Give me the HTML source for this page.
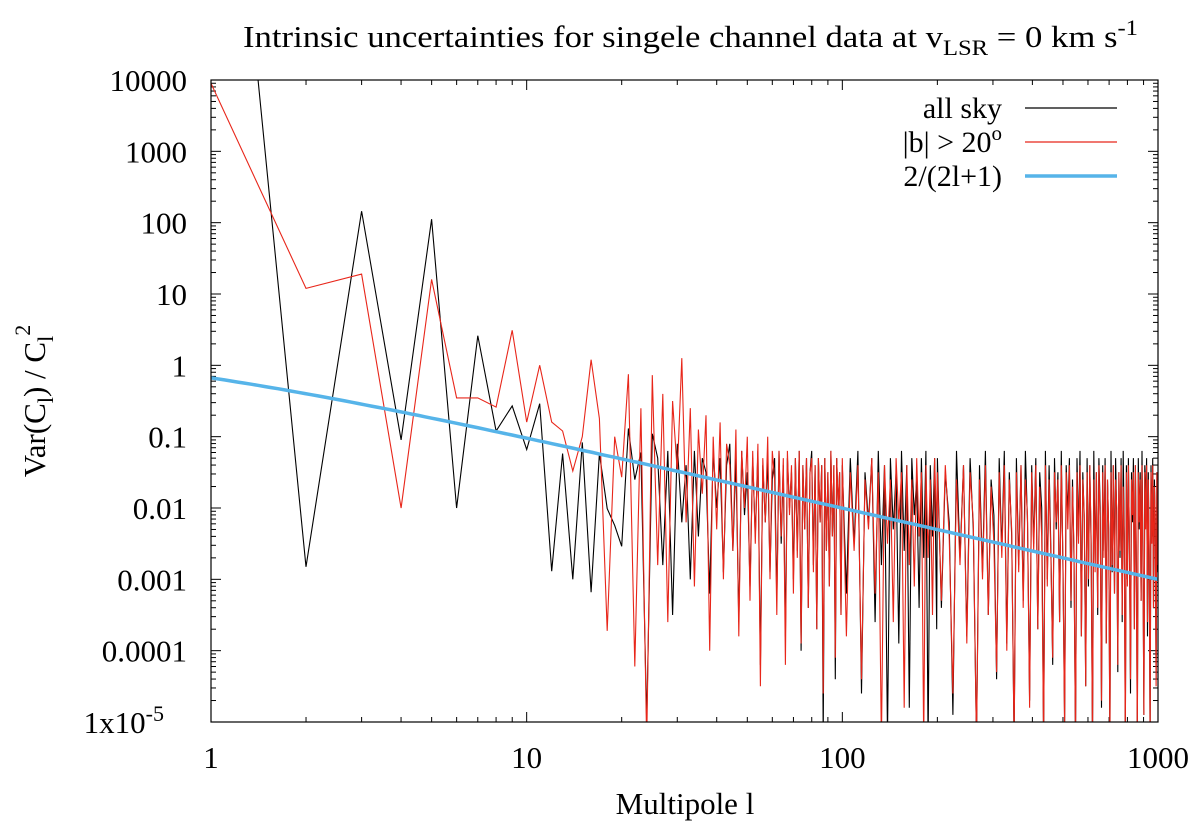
<!DOCTYPE html>
<html><head><meta charset="utf-8"><style>
body{margin:0;background:#fff}
svg text{font-family:"Liberation Serif",serif;fill:#000}
</style></head><body>
<svg id="chart" width="1200" height="833" viewBox="0 0 1200 833" xmlns="http://www.w3.org/2000/svg">
<defs><clipPath id="clip"><rect x="211" y="80" width="947" height="642"/></clipPath></defs>
<text x="243" y="47" font-size="31" textLength="895" lengthAdjust="spacingAndGlyphs">Intrinsic uncertainties for singele channel data at v<tspan font-size="22" dy="8">LSR</tspan><tspan dy="-8"> = 0 km s</tspan><tspan font-size="22" dy="-12">-1</tspan></text>
<text x="685" y="814" font-size="31" text-anchor="middle">Multipole l</text>
<text transform="translate(45,401) rotate(-90)" font-size="31" text-anchor="middle">Var(C<tspan font-size="22" dy="8">l</tspan><tspan dy="-8">) / C</tspan><tspan font-size="22" dy="8">l</tspan><tspan font-size="22" dy="-23">2</tspan></text>
<g id="axes"></g>
<g id="series" clip-path="url(#clip)"></g>
<rect x="211" y="80" width="947" height="642" fill="none" stroke="#000" stroke-width="1.2"/>
<g id="legend">
<text x="1002" y="118" font-size="30" text-anchor="end">all sky</text>
<line x1="1025" y1="108" x2="1117" y2="108" stroke="#000" stroke-width="1.2"/>
<text x="1002" y="152" font-size="30" text-anchor="end">|b| &gt; 20<tspan font-size="21" dy="-12">o</tspan></text>
<line x1="1025" y1="142" x2="1117" y2="142" stroke="#e8261a" stroke-width="1.2"/>
<text x="1002" y="186" font-size="30" text-anchor="end">2/(2l+1)</text>
<line x1="1025" y1="176" x2="1117" y2="176" stroke="#56b4e9" stroke-width="3.5"/>
</g>
</svg>
<script>
const xTicks=[1,10,100,1000];
const xTickLabels=["1","10","100","1000"];
const yTicks=[4,3,2,1,0,-1,-2,-3,-4,-5];
const yTickLabels=["10000","1000","100","10","1","0.1","0.01","0.001","0.0001","1x10"];
// all sky, l = 1..25 (linear values)
const allSkyEarly=[5e10,0.0015,145,0.09,112,0.01,2.6,0.12,0.27,0.066,0.29,0.0013,0.058,0.001,0.083,0.00066,0.058,0.0098,0.0057,0.0029,0.13,0.025,0.06,0.00001,0.11];
const bCutEarly=[9000,12,19,0.01,16,0.35,0.35,0.26,3.1,0.16,1.0,0.16,0.12,0.033,0.1,1.2,0.18,0.00019,0.1,0.027,0.75,0.00006,0.25,0.000005,0.73];
// log10 values: l = 26..99 step 1
const allSkyLogLow=[-1.3,-2.8,-1.2,-3.5,-1.1,-2.2,-1.4,-3.0,-1.2,-2.4,-1.3,-1.5,-3.2,-1.2,-2.0,-1.3,-2.9,-1.4,-1.1,-2.6,-1.3,-3.6,-1.2,-2.1,-1.5,-3.1,-1.3,-2.4,-1.2,-4.2,-1.4,-2.2,-1.3,-2.9,-1.6,-1.3,-3.3,-1.2,-2.5,-1.4,-3.8,-1.3,-2.0,-1.5,-3.0,-1.3,-2.6,-1.2,-4.0,-1.4,-2.3,-1.3,-3.4,-1.5,-1.2,-2.8,-1.4,-3.7,-1.3,-2.2,-1.4,-5.2,-1.3,-2.6,-1.5,-3.1,-1.2,-2.4,-1.4,-4.4,-1.3,-2.0,-1.5,-3.5];
const bCutLogLow=[-2.8,-0.4,-3.6,-0.5,-1.5,0.1,-2.2,-0.6,-3.1,-0.9,-1.8,-0.7,-4.0,-1.0,-2.3,-0.8,-3.0,-1.1,-1.4,-2.6,-0.9,-3.8,-1.2,-2.0,-1.0,-3.3,-1.2,-2.5,-1.1,-4.5,-1.3,-2.2,-1.0,-3.0,-1.2,-1.6,-3.5,-1.2,-2.4,-1.3,-4.2,-1.2,-2.1,-1.4,-3.2,-1.3,-2.7,-1.2,-3.9,-1.4,-2.3,-1.3,-3.4,-1.5,-1.3,-2.9,-1.4,-3.7,-1.3,-2.2,-1.4,-4.6,-1.3,-2.6,-1.5,-3.1,-1.2,-2.4,-1.4,-4.1,-1.3,-2.0,-1.5,-3.5];
// log10 values: l = 100.. step 3
const allSkyLogMid=[-1.4,-3.2,-1.3,-2.5,-1.2,-4.6,-1.5,-2.2,-1.3,-3.6,-1.2,-2.8,-1.4,-5.2,-1.3,-2.3,-1.5,-3.9,-1.2,-2.6,-1.4,-4.8,-1.3,-2.1,-1.6,-3.4,-1.3,-2.7,-1.2,-5.3,-1.4,-2.4,-1.3,-3.7];
const bCutLogMid=[-1.3,-3.8,-1.5,-2.6,-1.4,-4.4,-1.6,-2.3,-1.3,-3.2,-1.5,-5.3,-1.4,-2.5,-1.6,-3.6,-1.3,-2.2,-1.5,-4.8,-1.4,-2.8,-1.6,-3.1,-1.3,-2.4,-1.5,-5.3,-1.4,-2.7,-1.6,-3.5,-1.3,-2.3];
// log10 values: l = 200.. step 6
const allSkyLogHigh=[-1.3,-3.4,-1.5,-2.2,-4.9,-1.2,-2.7,-1.4,-3.8,-1.3,-2.3,-5.3,-1.4,-2.9,-1.2,-3.5,-1.6,-2.1,-4.4,-1.3,
-2.6,-1.2,-3.9,-1.5,-2.4,-5.3,-1.3,-2.8,-1.4,-3.3,-1.2,-2.2,-4.7,-1.4,-2.5,-1.3,-3.7,-1.5,-2.0,-5.3,
-1.2,-3.0,-1.4,-2.6,-4.2,-1.3,-2.3,-1.5,-3.6,-1.2,-2.9,-5.0,-1.4,-2.1,-1.3,-3.4,-1.6,-2.7,-5.3,-1.3,
-2.4,-1.2,-3.8,-1.5,-2.2,-4.5,-1.3,-3.1,-1.4,-2.5,-5.3,-1.2,-2.8,-1.5,-3.5,-1.3,-2.0,-4.8,-1.4,-2.6,
-1.3,-3.9,-1.6,-2.3,-5.3,-1.2,-2.9,-1.4,-3.2,-1.3,-2.1,-4.3,-1.5,-2.7,-1.3,-3.6,-1.2,-2.4,-5.3,-1.4,
-3.0,-1.3,-2.5,-4.6,-1.5,-2.2,-1.3,-3.7,-1.4,-2.8,-5.3,-1.3,-2.3,-1.5,-3.3,-1.2,-2.6,-4.9,-1.4,-2.0,
-1.3,-3.8,-1.5,-2.7,-5.3,-1.4,-2.4,-1.3,-3.4,-1.6,-2.2,-4.4,-1.5,-2.9];
const bCutLogHigh=[-1.5,-3.3,-1.4,-2.4,-4.6,-1.6,-2.8,-1.4,-3.9,-1.5,-2.2,-5.3,-1.6,-3.0,-1.4,-3.5,-1.7,-2.5,-4.3,-1.5,
-2.7,-1.4,-4.0,-1.6,-2.3,-5.3,-1.5,-2.9,-1.4,-3.4,-1.6,-2.1,-4.8,-1.5,-2.6,-1.4,-3.7,-1.7,-2.4,-5.3,
-1.4,-3.1,-1.6,-2.7,-4.1,-1.5,-2.2,-1.6,-3.6,-1.4,-2.8,-5.1,-1.5,-2.3,-1.4,-3.3,-1.7,-2.6,-5.3,-1.5,
-2.5,-1.4,-3.8,-1.6,-2.1,-4.5,-1.5,-3.0,-1.4,-2.4,-5.3,-1.6,-2.9,-1.5,-3.4,-1.4,-2.2,-4.7,-1.5,-2.7,
-1.4,-3.9,-1.6,-2.3,-5.3,-1.5,-2.8,-1.4,-3.2,-1.6,-2.0,-4.2,-1.5,-2.6,-1.4,-3.5,-1.7,-2.5,-5.3,-1.5,
-3.1,-1.4,-2.4,-4.4,-1.6,-2.1,-1.5,-3.7,-1.4,-2.9,-5.3,-1.5,-2.2,-1.6,-3.3,-1.4,-2.7,-4.9,-1.5,-2.3,
-1.4,-3.6,-1.6,-2.6,-5.3,-1.5,-2.5,-1.4,-3.4,-1.7,-2.1,-4.5,-1.5,-2.8];

const NS="http://www.w3.org/2000/svg";
const L=211,R=1158,T=80,B=722;
const xs=l=>L+(R-L)*Math.log10(l)/3;
const ys=lg=>T+(B-T)*(4-lg)/9;
function mk(tag,attrs,parent){const e=document.createElementNS(NS,tag);for(const k in attrs)e.setAttribute(k,attrs[k]);parent.appendChild(e);return e;}
const axes=document.getElementById('axes');
yTicks.forEach((v,i)=>{
  const y=ys(v);
  const t=mk('line',{x1:L,y1:y,x2:L+10,y2:y,stroke:'#000'},axes);
  
  
  const t2=mk('line',{x1:R,y1:y,x2:R-10,y2:y,stroke:'#000'},axes);
  
  
  const tx=mk('text',{x:187,y:y+11,'font-size':31,'text-anchor':'end'},axes);
  
  
  if(v===-5){tx.setAttribute('x',164);tx.textContent=yTickLabels[i];const s=mk('tspan',{'font-size':22,dy:-12},tx);s.textContent='-5';}
  else tx.textContent=yTickLabels[i];
  if(v>-5)for(let m=2;m<10;m++){
    const ym=ys(v-1+Math.log10(m));
    const a=mk('line',{x1:L,y1:ym,x2:L+5,y2:ym,stroke:'#000'},axes);
    
    
    const b=mk('line',{x1:R,y1:ym,x2:R-5,y2:ym,stroke:'#000'},axes);
    
    
  }
});
xTicks.forEach((v,i)=>{
  const x=xs(v);
  const t=mk('line',{x1:x,y1:B,x2:x,y2:B-10,stroke:'#000'},axes);
  
  
  const t2=mk('line',{x1:x,y1:T,x2:x,y2:T+10,stroke:'#000'},axes);
  
  
  const tx=mk('text',{x:x,y:768,'font-size':31,'text-anchor':'middle'},axes);
  
  
  tx.textContent=xTickLabels[i];
  if(v<1000)for(let m=2;m<10;m++){
    const xm=xs(v*m);
    const a=mk('line',{x1:xm,y1:B,x2:xm,y2:B-5,stroke:'#000'},axes);
    
    
    const b=mk('line',{x1:xm,y1:T,x2:xm,y2:T+5,stroke:'#000'},axes);
    
    
  }
});
function buildPts(early,low,mid,high){
  const p=[];
  early.forEach((v,i)=>p.push([xs(i+1),ys(Math.log10(v))]));
  low.forEach((v,i)=>p.push([xs(26+i),ys(v)]));
  mid.forEach((v,i)=>p.push([xs(100+3*i),ys(v)]));
  high.forEach((v,i)=>p.push([xs(Math.min(1000,200+6*i)),ys(v)]));
  return p.map(q=>q[0].toFixed(1)+','+q[1].toFixed(1)).join(' ');
}
const g=document.getElementById('series');
const s1=mk('polyline',{points:buildPts(allSkyEarly,allSkyLogLow,allSkyLogMid,allSkyLogHigh),fill:'none',stroke:'#000','stroke-width':1.1},g);


const s2=mk('polyline',{points:buildPts(bCutEarly,bCutLogLow,bCutLogMid,bCutLogHigh),fill:'none',stroke:'#e8261a','stroke-width':1.1},g);


const cv=[];for(let l=1;l<=1000;l*=1.05)cv.push(xs(l).toFixed(1)+','+ys(Math.log10(2/(2*l+1))).toFixed(1));
cv.push(xs(1000).toFixed(1)+','+ys(Math.log10(2/2001)).toFixed(1));
const s3=mk('polyline',{points:cv.join(' '),fill:'none',stroke:'#56b4e9','stroke-width':3.5},g);


</script>
</body></html>
